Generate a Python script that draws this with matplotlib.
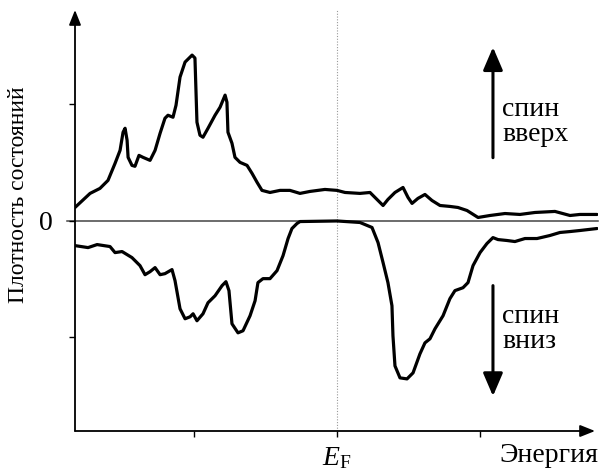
import matplotlib
matplotlib.use("Agg")
import matplotlib.pyplot as plt

plt.rcParams['font.family'] = ['Liberation Serif', 'DejaVu Serif']
plt.rcParams['mathtext.fontset'] = 'custom'
plt.rcParams['mathtext.rm'] = 'Liberation Serif'
plt.rcParams['mathtext.it'] = 'Liberation Serif:italic'

# Energy (arbitrary units, E_F = 0) and density of states (arbitrary units)
energy_up = [-1.826, -1.721, -1.652, -1.596, -1.547, -1.512, -1.491, -1.477, -1.463, -1.456,
             -1.429, -1.408, -1.380, -1.352, -1.303, -1.268, -1.233, -1.199, -1.178, -1.143,
             -1.122, -1.094, -1.059, -1.010, -0.990, -0.983, -0.976, -0.955, -0.934, -0.899,
             -0.850, -0.815, -0.780, -0.767, -0.760, -0.732, -0.711, -0.676, -0.627, -0.592,
             -0.557, -0.523, -0.467, -0.397, -0.328, -0.258, -0.188, -0.084, 0.000, 0.056,
             0.160, 0.230, 0.286, 0.321, 0.355, 0.404, 0.460, 0.495, 0.523, 0.564,
             0.613, 0.662, 0.718, 0.787, 0.843, 0.906, 0.983, 1.066, 1.171, 1.275,
             1.380, 1.519, 1.624, 1.693, 1.812]
dos_up = [0.112, 0.233, 0.276, 0.345, 0.491, 0.603, 0.759, 0.793, 0.690, 0.543,
          0.474, 0.466, 0.560, 0.543, 0.517, 0.603, 0.750, 0.879, 0.905, 0.888,
          0.991, 1.233, 1.362, 1.422, 1.397, 1.121, 0.845, 0.733, 0.716, 0.793,
          0.905, 0.974, 1.078, 1.017, 0.759, 0.664, 0.543, 0.500, 0.474, 0.405,
          0.328, 0.259, 0.241, 0.259, 0.259, 0.233, 0.250, 0.267, 0.259, 0.241,
          0.233, 0.241, 0.172, 0.129, 0.181, 0.241, 0.284, 0.198, 0.147, 0.190,
          0.224, 0.172, 0.129, 0.121, 0.112, 0.086, 0.026, 0.043, 0.060, 0.052,
          0.069, 0.078, 0.043, 0.052, 0.052]

energy_down = [-1.826, -1.735, -1.672, -1.582, -1.547, -1.498, -1.429, -1.373, -1.338, -1.303,
               -1.268, -1.233, -1.199, -1.150, -1.129, -1.094, -1.059, -1.024, -1.003, -0.976,
               -0.934, -0.899, -0.850, -0.801, -0.774, -0.753, -0.732, -0.690, -0.655, -0.606,
               -0.571, -0.551, -0.516, -0.467, -0.418, -0.376, -0.341, -0.314, -0.279, -0.258,
               0.000, 0.160, 0.244, 0.286, 0.321, 0.355, 0.383, 0.390, 0.404, 0.439,
               0.488, 0.530, 0.578, 0.613, 0.648, 0.683, 0.739, 0.787, 0.822, 0.878,
               0.913, 0.948, 0.997, 1.045, 1.087, 1.122, 1.185, 1.240, 1.310, 1.394,
               1.484, 1.554, 1.624, 1.693, 1.812]
dos_down = [-0.216, -0.233, -0.207, -0.224, -0.276, -0.267, -0.319, -0.388, -0.466, -0.440,
            -0.405, -0.466, -0.457, -0.422, -0.517, -0.759, -0.845, -0.828, -0.802, -0.862,
            -0.802, -0.707, -0.647, -0.560, -0.526, -0.603, -0.888, -0.966, -0.948, -0.819,
            -0.690, -0.534, -0.500, -0.500, -0.431, -0.302, -0.155, -0.069, -0.026, -0.009,
            -0.004, -0.017, -0.060, -0.190, -0.362, -0.534, -0.733, -0.991, -1.250, -1.353,
            -1.362, -1.310, -1.147, -1.052, -1.017, -0.931, -0.819, -0.672, -0.603, -0.578,
            -0.534, -0.388, -0.276, -0.198, -0.147, -0.164, -0.172, -0.181, -0.155, -0.155,
            -0.129, -0.103, -0.095, -0.086, -0.069]

x_ticks = [-1, 0, 1]
x_tick_labels = ['', r'$E_{\mathrm{F}}$', '']
y_ticks = [-1, 0, 1]
y_tick_labels = ['', '0', '']

fig = plt.figure(figsize=(6.01, 4.75), dpi=100)
ax = fig.add_axes([75/601, 44/475, 523/601, 421/475])
ax.set_xlim(-1.826, 1.819)
ax.set_ylim(-1.81, 1.81)
for s in ax.spines.values():
    s.set_visible(False)

line_kw = dict(color='black', lw=2.3, solid_joinstyle='round', solid_capstyle='round')
ax.plot(energy_up, dos_up, **line_kw)
ax.plot(energy_down, dos_down, **line_kw)
ax.axhline(0, xmin=-8/523, xmax=1.0, color='#444444', lw=1.1, clip_on=False, zorder=1)
ax.axvline(0, color='#999999', lw=0.8, linestyle=(0, (1, 1.5)), zorder=0)

# axes with arrows
axis_arrow = dict(arrowstyle='-|>,head_length=0.45,head_width=0.18',
                  mutation_scale=20, lw=1.3, color='black', shrinkA=0, shrinkB=0)
ax.annotate('', xy=(0, 1.0), xytext=(0, 0), xycoords='axes fraction', arrowprops=axis_arrow)
ax.annotate('', xy=(520/523, 0), xytext=(0, 0), xycoords='axes fraction', arrowprops=axis_arrow)

ax.set_xticks(x_ticks)
ax.set_xticklabels(x_tick_labels, fontsize=20)
ax.set_yticks(y_ticks)
ax.set_yticklabels(y_tick_labels, fontsize=20)
ax.tick_params(axis='x', direction='out', length=4, width=1, pad=6)
ax.tick_params(axis='y', direction='out', length=4, width=1, pad=12)

# spin arrows
arrow_style = dict(arrowstyle='-|>,head_length=0.7,head_width=0.3',
                   mutation_scale=20, lw=2.2, color='black', shrinkA=0, shrinkB=0)
ax.annotate('', xy=(1.087, 1.49), xytext=(1.087, 0.54), xycoords='data', arrowprops=arrow_style)
ax.annotate('', xy=(1.087, -1.51), xytext=(1.087, -0.56), xycoords='data', arrowprops=arrow_style)
ax.text(1.15, 0.85, 'спин\nвверх', fontsize=20, ha='left', va='center', linespacing=1.0)
ax.text(1.15, -0.93, 'спин\nвниз', fontsize=20, ha='left', va='center', linespacing=1.0)

fig.text(598/601, 13/475, 'Энергия', fontsize=20, ha='right', va='baseline')
fig.text(19/601, 1 - 195/475, 'Плотность состояний', fontsize=17, rotation=90,
         ha='center', va='center')

fig.savefig('out.png', dpi=100)
